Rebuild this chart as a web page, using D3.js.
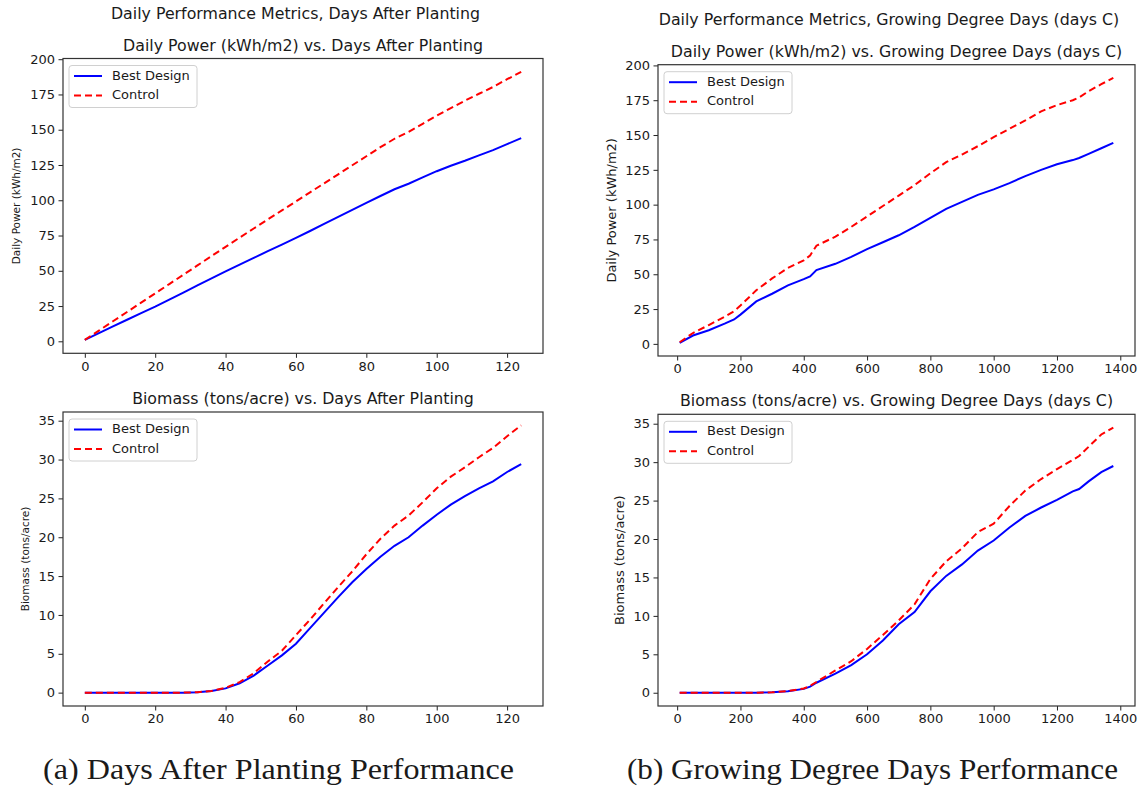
<!DOCTYPE html>
<html>
<head>
<meta charset="utf-8">
<script src="https://cdn.jsdelivr.net/npm/d3@7"></script>
<style>
  body { margin: 0; background: #fff; }
  svg text { font-family: "DejaVu Sans", sans-serif; fill: #1a1a1a; }
</style>
</head>
<body>
<svg id="fig" width="1141" height="786"></svg>
<script>
// ---- data ----
const days = [0, 4, 8, 12, 16, 20, 24, 28, 32, 36, 40, 44, 48, 52, 56, 60,
              64, 68, 72, 76, 80, 84, 88, 92, 96, 100, 104, 108, 112, 116, 120, 124];
const powerBestDays = [1.0, 5.8, 10.6, 15.3, 20.0, 24.6, 29.5, 34.5, 39.6, 44.6, 49.6, 54.4, 59.1, 63.9, 68.6, 73.3,
                       78.2, 83.3, 88.2, 93.2, 98.2, 103.0, 107.8, 111.7, 116.2, 120.6, 124.5, 128.0, 131.8, 135.5, 139.8, 144.0];
const powerCtrlDays = [1.0, 7.6, 14.2, 20.8, 27.4, 34.0, 40.6, 47.2, 53.8, 60.4, 67.0, 73.5, 80.0, 86.4, 92.8, 99.2,
                       105.6, 112.0, 118.4, 124.8, 131.2, 137.6, 143.6, 148.4, 154.2, 160.0, 165.3, 170.6, 175.5, 180.3, 185.8, 191.0];
const bioBestDays = [0, 0, 0, 0, 0, 0, 0, 0, 0.05, 0.2, 0.55, 1.2, 2.2, 3.5, 4.8, 6.3,
                     8.3, 10.3, 12.3, 14.2, 15.9, 17.5, 18.9, 20.0, 21.5, 22.9, 24.2, 25.3, 26.3, 27.2, 28.4, 29.4];
const bioCtrlDays = [0, 0, 0, 0, 0, 0, 0, 0, 0.05, 0.22, 0.62, 1.35, 2.5, 4.0, 5.4, 7.4,
                     9.4, 11.5, 13.6, 15.6, 17.8, 19.8, 21.5, 22.8, 24.5, 26.3, 27.8, 29.0, 30.3, 31.5, 33.0, 34.4];

const gdd = [8, 50, 100, 150, 180, 200, 250, 300, 350, 400, 420, 440, 500, 550, 600, 650,
             700, 750, 800, 850, 900, 950, 1000, 1050, 1100, 1150, 1200, 1250, 1270, 1300, 1340, 1378];
const powerBestGdd = [0.8, 6.0, 9.8, 14.5, 17.5, 21, 30.5, 36, 42, 46.5, 48.5, 53, 57.5, 62.5, 68, 73,
                      78, 84, 90.5, 97, 102, 107, 111, 115.5, 120.5, 125, 129, 132, 133.5, 136.5, 140.5, 144.4];
const powerCtrlGdd = [1.2, 7.8, 13.5, 19.5, 23.5, 27.5, 38.5, 47, 54.5, 60, 63.5, 70.5, 77, 84, 91.5, 99,
                      106.5, 114, 122.5, 130.5, 136, 142, 148.5, 154.5, 160.5, 167, 171.5, 175, 177, 181.5, 186.5, 191];
const bioBestGdd = [0, 0, 0, 0, 0, 0, 0, 0.05, 0.2, 0.5, 0.8, 1.3, 2.5, 3.6, 5.0, 6.8,
                    8.9, 10.5, 13.2, 15.2, 16.7, 18.5, 19.8, 21.5, 23.0, 24.1, 25.1, 26.2, 26.5, 27.5, 28.7, 29.5];
const bioCtrlGdd = [0, 0, 0, 0, 0, 0, 0, 0.05, 0.22, 0.55, 0.9, 1.4, 2.9, 4.1, 5.7, 7.5,
                    9.4, 11.5, 14.8, 17.1, 18.8, 20.9, 22.0, 24.3, 26.3, 27.8, 29.1, 30.3, 30.8, 32.0, 33.6, 34.5];

const seriesNames = ["Best Design", "Control"];
const daysTicks = [0, 20, 40, 60, 80, 100, 120];
const gddTicks = [0, 200, 400, 600, 800, 1000, 1200, 1400];
const powerTicks = [0, 25, 50, 75, 100, 125, 150, 175, 200];
const bioTicks = [0, 5, 10, 15, 20, 25, 30, 35];

class LinePanel {

    constructor( config, data ) {
        this.config = {
            parent: config.parent,
            box: config.box,              // [left, top, right, bottom] of the frame
            title: config.title,
            ylabel: config.ylabel,
            ylabelSize: config.ylabelSize || 13,
            ylabelX: config.ylabelX,
            xticks: config.xticks,
            yticks: config.yticks
        }
        this.data = data;
        this.init();
    }

    init() {
        let self = this;
        const [l, t, r, b] = self.config.box;
        self.inner_width = r - l;
        self.inner_height = b - t;

        self.chart = d3.select( self.config.parent ).append('g')
            .attr('transform', `translate(${l}, ${t})`);

        self.xscale = d3.scaleLinear().range( [0, self.inner_width] );
        self.yscale = d3.scaleLinear().range( [self.inner_height, 0] );

        self.xaxis = d3.axisBottom( self.xscale )
            .tickValues( self.config.xticks )
            .tickFormat( d3.format('d') )
            .tickSize(4.5).tickPadding(3.5);
        self.yaxis = d3.axisLeft( self.yscale )
            .tickValues( self.config.yticks )
            .tickFormat( d3.format('d') )
            .tickSize(4.5).tickPadding(3.5);

        self.xaxis_group = self.chart.append('g')
            .attr('transform', `translate(0, ${self.inner_height})`);
        self.yaxis_group = self.chart.append('g');

        self.chart.append('text')
            .text( self.config.title )
            .attr('x', self.inner_width / 2)
            .attr('y', -8)
            .attr('text-anchor', 'middle')
            .attr('font-size', '15.8px');

        self.chart.append('text')
            .text( self.config.ylabel )
            .attr('transform', `translate(${self.config.ylabelX - l}, ${self.inner_height / 2}) rotate(-90)`)
            .attr('text-anchor', 'middle')
            .attr('dominant-baseline', 'middle')
            .attr('font-size', self.config.ylabelSize + 'px');
    }

    update() {
        let self = this;
        // matplotlib style 5% margins around the data
        const pad = (lo, hi) => [lo - (hi - lo) * 0.05, hi + (hi - lo) * 0.05];
        const allX = self.data.flatMap( s => s.values.map(d => d.x) );
        const allY = self.data.flatMap( s => s.values.map(d => d.y) );
        self.xscale.domain( pad( d3.min(allX), d3.max(allX) ) );
        self.yscale.domain( pad( d3.min(allY), d3.max(allY) ) );
        self.render();
    }

    render() {
        let self = this;

        const line = d3.line()
            .x( d => self.xscale( d.x ) )
            .y( d => self.yscale( d.y ) );

        self.chart.selectAll('path.series')
            .data( self.data )
            .join('path')
            .attr('class', 'series')
            .attr('d', d => line( d.values ))
            .attr('fill', 'none')
            .attr('stroke', d => d.color)
            .attr('stroke-width', 2)
            .attr('stroke-dasharray', d => d.dash);

        self.xaxis_group.call( self.xaxis );
        self.yaxis_group.call( self.yaxis );
        [self.xaxis_group, self.yaxis_group].forEach( g => {
            g.select('.domain').remove();
            g.selectAll('line').attr('stroke', '#222').attr('stroke-width', 1);
            g.selectAll('text')
                .attr('font-size', '13px')
                .attr('font-family', '"DejaVu Sans", sans-serif')
                .attr('fill', '#1a1a1a');
        });

        // frame
        self.chart.append('rect')
            .attr('width', self.inner_width)
            .attr('height', self.inner_height)
            .attr('fill', 'none')
            .attr('stroke', '#333')
            .attr('stroke-width', 1.2);

        // legend
        const legend = self.chart.append('g').attr('transform', 'translate(6, 7)');
        legend.append('rect')
            .attr('width', 128).attr('height', 42)
            .attr('rx', 3)
            .attr('fill', '#fff').attr('fill-opacity', 0.8)
            .attr('stroke', '#d0d0d0');
        const item = legend.selectAll('g.item')
            .data( self.data )
            .join('g')
            .attr('class', 'item')
            .attr('transform', (d, i) => `translate(0, ${10.5 + i * 19.5})`);
        item.append('line')
            .attr('x1', 5).attr('x2', 33)
            .attr('stroke', d => d.color)
            .attr('stroke-width', 2)
            .attr('stroke-dasharray', d => d.dash);
        item.append('text')
            .text( d => d.name )
            .attr('x', 43)
            .attr('dominant-baseline', 'middle')
            .attr('font-size', '13px');
    }
}

function makeSeries(xs, best, ctrl) {
    return [
        { name: seriesNames[0], color: '#0000ff', dash: null, values: xs.map((x, i) => ({x: x, y: best[i]})) },
        { name: seriesNames[1], color: '#ff0000', dash: '7,4', values: xs.map((x, i) => ({x: x, y: ctrl[i]})) }
    ];
}

const svg = d3.select('#fig');

const panels = [
    new LinePanel({ parent: '#fig', box: [63, 58.5, 543, 353.3],
        title: 'Daily Power (kWh/m2) vs. Days After Planting',
        ylabel: 'Daily Power (kWh/m2)', ylabelSize: 10.5, ylabelX: 17,
        xticks: daysTicks, yticks: powerTicks },
        makeSeries(days, powerBestDays, powerCtrlDays)),
    new LinePanel({ parent: '#fig', box: [658, 64.7, 1135, 356],
        title: 'Daily Power (kWh/m2) vs. Growing Degree Days (days C)',
        ylabel: 'Daily Power (kWh/m2)', ylabelSize: 13, ylabelX: 612,
        xticks: gddTicks, yticks: powerTicks },
        makeSeries(gdd, powerBestGdd, powerCtrlGdd)),
    new LinePanel({ parent: '#fig', box: [63, 412, 543, 706],
        title: 'Biomass (tons/acre) vs. Days After Planting',
        ylabel: 'Biomass (tons/acre)', ylabelSize: 10.5, ylabelX: 26,
        xticks: daysTicks, yticks: bioTicks },
        makeSeries(days, bioBestDays, bioCtrlDays)),
    new LinePanel({ parent: '#fig', box: [658, 414.3, 1135, 706],
        title: 'Biomass (tons/acre) vs. Growing Degree Days (days C)',
        ylabel: 'Biomass (tons/acre)', ylabelSize: 13, ylabelX: 620,
        xticks: gddTicks, yticks: bioTicks },
        makeSeries(gdd, bioBestGdd, bioCtrlGdd))
];
panels.forEach( p => p.update() );

// figure titles
svg.append('text').text('Daily Performance Metrics, Days After Planting')
    .attr('x', 295.5).attr('y', 14.5)
    .attr('text-anchor', 'middle').attr('dominant-baseline', 'middle')
    .attr('font-size', '15.8px');
svg.append('text').text('Daily Performance Metrics, Growing Degree Days (days C)')
    .attr('x', 889).attr('y', 20.5)
    .attr('text-anchor', 'middle').attr('dominant-baseline', 'middle')
    .attr('font-size', '15.8px');

// sub-figure captions
const captions = [
    { text: '(a) Days After Planting Performance', x: 43, len: 471 },
    { text: '(b) Growing Degree Days Performance', x: 627, len: 491 }
];
svg.selectAll('text.caption')
    .data(captions)
    .join('text')
    .attr('class', 'caption')
    .text(d => d.text)
    .attr('x', d => d.x)
    .attr('y', 779)
    .attr('textLength', d => d.len)
    .attr('lengthAdjust', 'spacingAndGlyphs')
    .style('font-family', '"Liberation Serif", serif')
    .attr('font-size', '29px')
    .attr('fill', '#111');
</script>
</body>
</html>
